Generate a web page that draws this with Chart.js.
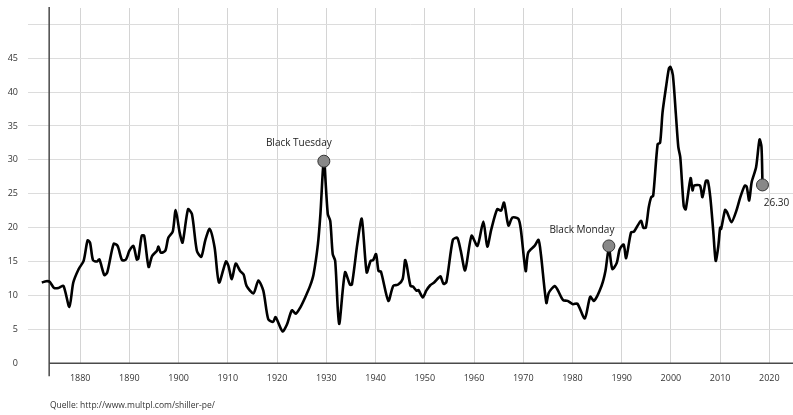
<!DOCTYPE html>
<html>
<head>
<meta charset="utf-8">
<script src="https://cdn.jsdelivr.net/npm/chart.js@4.4.1/dist/chart.umd.min.js"></script>
<style>
  body { margin: 0; background: #fff; }
  #wrap { position: relative; width: 793px; height: 415px; }
  #source {
    position: absolute; left: 50px; top: 399px;
    font-family: "Open Sans", sans-serif; font-size: 8.5px; color: #333;
  }
</style>
</head>
<body>
<div id="wrap">
  <canvas id="peChart" width="793" height="415"></canvas>
  <div id="source">Quelle: http://www.multpl.com/shiller-pe/</div>
</div>
<script>
// Shiller PE (CAPE)
const years = [
  1872.2, 1873.1, 1873.8, 1874.7, 1875.6, 1876.6, 1877.8, 1878.6, 1879.7, 1880.7,
  1881.5, 1882.0, 1882.6, 1883.4, 1883.9, 1884.9, 1885.5, 1886.8, 1887.6, 1888.5,
  1889.3, 1890.0, 1890.8, 1891.5, 1891.8, 1892.5, 1893.0, 1893.9, 1894.6, 1895.6,
  1895.9, 1896.4, 1897.3, 1897.9, 1898.8, 1899.4, 1900.2, 1900.8, 1901.9, 1902.7,
  1903.7, 1904.6, 1905.4, 1906.3, 1907.3, 1908.2, 1909.6, 1910.1, 1910.8, 1911.6,
  1912.5, 1913.2, 1913.8, 1915.2, 1916.2, 1917.2, 1918.2, 1919.2, 1919.7, 1921.1,
  1922.0, 1923.0, 1923.8, 1924.7, 1925.7, 1926.7, 1927.4, 1928.3, 1928.8, 1929.5,
  1930.3, 1930.8, 1931.3, 1931.8, 1932.6, 1933.8, 1934.8, 1935.2, 1936.3, 1937.2,
  1938.2, 1939.0, 1939.5, 1940.1, 1940.6, 1941.1, 1942.6, 1943.6, 1944.6, 1945.5,
  1946.0, 1946.3, 1947.1, 1947.6, 1948.3, 1948.7, 1949.6, 1950.3, 1951.1, 1951.9,
  1952.8, 1953.2, 1953.8, 1954.4, 1955.7, 1956.6, 1957.3, 1958.2, 1959.5, 1960.7,
  1961.9, 1962.7, 1963.5, 1964.7, 1965.5, 1966.1, 1967.0, 1967.8, 1969.0, 1969.5,
  1970.5, 1971.0, 1972.3, 1973.1, 1973.6, 1974.7, 1975.2, 1976.4, 1977.0, 1978.1,
  1979.0, 1980.1, 1981.0, 1982.5, 1983.6, 1984.4, 1985.9, 1986.7, 1987.4, 1988.1,
  1989.0, 1989.6, 1990.4, 1990.9, 1991.9, 1992.5, 1993.9, 1994.4, 1994.9, 1995.5,
  1996.0, 1996.4, 1997.3, 1997.8, 1998.3, 1999.0, 1999.6, 1999.9, 2000.4, 2001.0,
  2001.5, 2001.9, 2002.6, 2003.0, 2004.0, 2004.4, 2004.7, 2005.9, 2006.4, 2007.1,
  2007.5, 2008.0, 2008.6, 2009.1, 2009.6, 2010.0, 2010.2, 2011.0, 2011.4, 2012.3,
  2013.3, 2014.1, 2015.0, 2015.4, 2015.9, 2016.4, 2017.3, 2018.0, 2018.4, 2018.6
];
const cape = [
  11.9, 12.1, 12.0, 11.1, 11.1, 11.4, 8.3, 11.9, 13.9, 15.1,
  18.1, 17.8, 15.2, 15.0, 15.3, 13.0, 13.4, 17.6, 17.3, 15.2,
  15.3, 16.6, 17.3, 15.3, 15.4, 18.8, 18.8, 14.2, 15.8, 16.6,
  17.2, 16.3, 16.6, 18.5, 19.4, 22.6, 19.3, 17.8, 22.7, 22.0,
  16.6, 15.7, 18.1, 19.8, 17.1, 11.9, 15.0, 14.4, 12.4, 14.7,
  13.6, 13.1, 11.4, 10.3, 12.2, 10.7, 6.5, 6.1, 6.8, 4.7,
  5.7, 7.8, 7.3, 8.2, 9.7, 11.4, 13.1, 17.6, 22.0, 29.8,
  22.0, 21.0, 16.1, 15.1, 5.8, 13.4, 11.6, 11.6, 17.6, 21.3,
  13.4, 15.1, 15.2, 16.1, 13.6, 13.5, 9.2, 11.4, 11.6, 12.4,
  15.2, 14.6, 11.4, 11.3, 10.7, 10.8, 9.7, 10.7, 11.5, 11.9,
  12.6, 12.8, 11.7, 12.0, 18.2, 18.5, 16.6, 13.7, 18.8, 17.3,
  20.9, 17.2, 19.7, 22.7, 22.5, 23.7, 20.3, 21.5, 21.3, 19.8,
  13.6, 16.3, 17.3, 18.2, 16.0, 8.9, 10.4, 11.4, 10.8, 9.3,
  9.2, 8.7, 8.8, 6.6, 9.8, 9.2, 11.4, 13.6, 17.0, 13.9,
  14.8, 16.8, 17.5, 15.5, 19.3, 19.4, 21.0, 20.0, 20.0, 23.0,
  24.5, 24.7, 32.3, 32.5, 37.0, 40.7, 43.5, 43.7, 42.5, 36.8,
  31.9, 30.4, 23.2, 22.7, 27.3, 25.5, 26.2, 26.2, 24.5, 26.9,
  26.9, 24.5, 19.5, 15.1, 17.1, 20.0, 19.8, 22.6, 22.3, 20.8,
  22.5, 24.5, 26.2, 26.0, 24.0, 26.7, 28.9, 33.0, 31.9, 26.3
];

// marked events
const markerYears = [1929.5, 1987.4, 2018.6];
const markerValues = [29.8, 17.3, 26.3];
const markerLabels = ["Black Tuesday", "Black Monday", "26.30"];

const xTickYears = [1880, 1890, 1900, 1910, 1920, 1930, 1940, 1950, 1960, 1970, 1980, 1990, 2000, 2010, 2020];

const FONT = '"Open Sans", sans-serif';

// label offsets from the marker (pixels)
const labelOffsets = [[-25, -18], [-27, -16], [14, 18]];

// axis lines + event labels
const annotate = {
  id: "annotate",
  beforeDatasetsDraw(chart) {
    const { ctx, chartArea, scales } = chart;
    const axisX = scales.x.getPixelForValue(1873.7);
    const zeroY = scales.y.getPixelForValue(0);
    ctx.save();
    ctx.strokeStyle = "#4a4a4a";
    ctx.lineWidth = 1.5;
    ctx.beginPath();
    ctx.moveTo(axisX, chartArea.top - 1);
    ctx.lineTo(axisX, zeroY + 13);
    ctx.moveTo(axisX, zeroY);
    ctx.lineTo(chartArea.right, zeroY);
    ctx.stroke();
    ctx.restore();
  },
  afterDatasetsDraw(chart) {
    const { ctx, scales } = chart;
    ctx.save();
    ctx.fillStyle = "#222";
    ctx.font = "10px " + FONT;
    ctx.textAlign = "center";
    ctx.textBaseline = "middle";
    markerLabels.forEach((txt, i) => {
      const px = scales.x.getPixelForValue(markerYears[i]);
      const py = scales.y.getPixelForValue(markerValues[i]);
      ctx.fillText(txt, px + labelOffsets[i][0], py + labelOffsets[i][1]);
    });
    ctx.restore();
  },
};

const ctx = document.getElementById("peChart").getContext("2d");

new Chart(ctx, {
  type: "line",
  data: {
    datasets: [
      {
        label: "events",
        data: markerYears.map((y, i) => ({ x: y, y: markerValues[i] })),
        showLine: false,
        pointRadius: 6,
        pointBackgroundColor: "#888",
        pointBorderColor: "#333",
        pointBorderWidth: 1,
        clip: false,
        order: 0,
      },
      {
        label: "Shiller PE",
        data: years.map((y, i) => ({ x: y, y: cape[i] })),
        borderColor: "#000",
        borderWidth: 2.6,
        pointRadius: 0,
        tension: 0.25,
        fill: false,
        order: 1,
      },
    ],
  },
  options: {
    responsive: false,
    animation: false,
    layout: { autoPadding: false, padding: { top: 8, right: 0, bottom: 21, left: 0 } },
    plugins: {
      legend: { display: false },
      tooltip: { enabled: false },
    },
    scales: {
      x: {
        type: "linear",
        min: 1869.4,
        max: 2024.8,
        afterBuildTicks: (scale) => {
          scale.ticks = xTickYears.map((v) => ({ value: v }));
        },
        afterFit: (scale) => {
          scale.paddingLeft = 0;
          scale.paddingRight = 0;
        },
        border: { display: false },
        grid: { color: "#d4d4d4", lineWidth: 1, drawTicks: false },
        ticks: {
          padding: 10,
          color: "#333",
          font: { family: FONT, size: 9 },
          maxRotation: 0,
          callback: (v) => String(v),
        },
      },
      y: {
        min: 0,
        max: 52.4,
        afterBuildTicks: (scale) => {
          scale.ticks = scale.ticks.filter((t) => t.value % 5 === 0);
        },
        afterFit: (scale) => {
          scale.width = 28;
          scale.paddingTop = 0;
          scale.paddingBottom = 0;
        },
        border: { display: false },
        grid: {
          color: (c) => (c.tick && c.tick.value === 0 ? "rgba(0,0,0,0)" : "#dcdcdc"),
          lineWidth: 1,
          drawTicks: false,
        },
        ticks: {
          stepSize: 5,
          padding: 10,
          color: "#333",
          font: { family: FONT, size: 9 },
          callback: (v) => (v <= 45 ? String(v) : ""),
        },
      },
    },
  },
  plugins: [annotate],
});
</script>
</body>
</html>
